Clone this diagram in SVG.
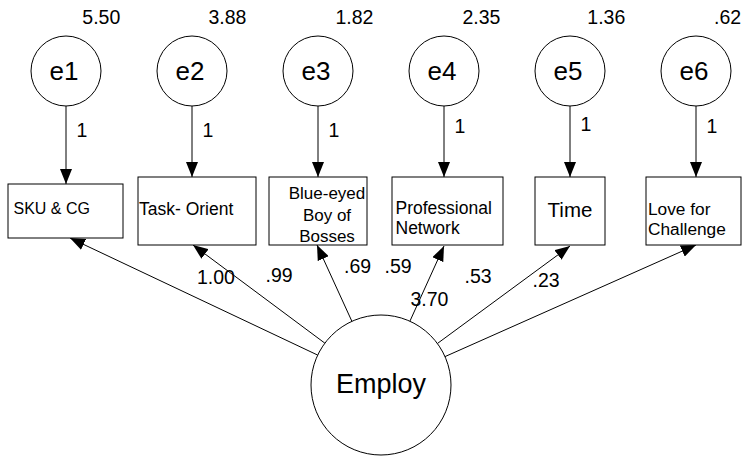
<svg xmlns="http://www.w3.org/2000/svg" width="742" height="456" viewBox="0 0 742 456">
  <style>
    text { font-family: "Liberation Sans", Arial, sans-serif; fill: #000; }
    .shape { fill: #fff; stroke: #000; stroke-width: 1; }
    .conn { stroke: #000; stroke-width: 1; fill: none; marker-end: url(#arrow); }
    .num { font-size: 19.5px; }
    .err { font-size: 26px; text-anchor: middle; }
  </style>
  <defs>
    <marker id="arrow" markerUnits="userSpaceOnUse" markerWidth="15" markerHeight="12" refX="15" refY="6" orient="auto">
      <path d="M0,0 L15,6 L0,12 Z" fill="#000"/>
    </marker>
  </defs>
  <rect width="742" height="456" fill="#fff"/>

  <g id="connectors">
    <line class="conn" x1="66" y1="106" x2="66" y2="184"/>
    <line class="conn" x1="192" y1="106" x2="192" y2="177"/>
    <line class="conn" x1="318" y1="106" x2="318" y2="177"/>
    <line class="conn" x1="444" y1="106" x2="444" y2="177"/>
    <line class="conn" x1="570" y1="106" x2="570" y2="177"/>
    <line class="conn" x1="696" y1="106" x2="696" y2="177"/>
    <line class="conn" x1="317.7" y1="355.1" x2="70" y2="238"/>
    <line class="conn" x1="324.9" y1="343.2" x2="193" y2="245"/>
    <line class="conn" x1="351.9" y1="321.3" x2="317" y2="245"/>
    <line class="conn" x1="409.9" y1="321.2" x2="444" y2="246"/>
    <line class="conn" x1="437.4" y1="343.5" x2="570" y2="246"/>
    <line class="conn" x1="445" y1="356.6" x2="696" y2="245"/>
    <text class="num" x="76.5" y="137">1</text>
    <text class="num" x="202.5" y="137">1</text>
    <text class="num" x="328.5" y="137">1</text>
    <text class="num" x="454.5" y="133">1</text>
    <text class="num" x="580.5" y="131">1</text>
    <text class="num" x="706.5" y="133">1</text>
    <text class="num" x="197" y="283.5">1.00</text>
    <text class="num" x="265.5" y="282">.99</text>
    <text class="num" x="344" y="273">.69</text>
    <text class="num" x="384.5" y="273">.59</text>
    <text class="num" x="410.5" y="306">3.70</text>
    <text class="num" x="464.5" y="283">.53</text>
    <text class="num" x="532.5" y="287">.23</text>
  </g>

  <g id="e1">
    <circle class="shape" cx="66" cy="71" r="35"/>
    <text class="err" x="64" y="80">e1</text>
    <text class="num" x="82.3" y="24">5.50</text>
  </g>
  <g id="e2">
    <circle class="shape" cx="192" cy="71" r="35"/>
    <text class="err" x="190" y="80">e2</text>
    <text class="num" x="208.5" y="24">3.88</text>
  </g>
  <g id="e3">
    <circle class="shape" cx="318" cy="71" r="35"/>
    <text class="err" x="316" y="80">e3</text>
    <text class="num" x="335.5" y="24">1.82</text>
  </g>
  <g id="e4">
    <circle class="shape" cx="444" cy="71" r="35"/>
    <text class="err" x="442" y="80">e4</text>
    <text class="num" x="462.5" y="24">2.35</text>
  </g>
  <g id="e5">
    <circle class="shape" cx="570" cy="71" r="35"/>
    <text class="err" x="568" y="80">e5</text>
    <text class="num" x="587.3" y="24">1.36</text>
  </g>
  <g id="e6">
    <circle class="shape" cx="696" cy="71" r="35"/>
    <text class="err" x="694" y="80">e6</text>
    <text class="num" x="714" y="24">.62</text>
  </g>

  <g id="sku">
    <rect class="shape" x="8" y="184" width="115" height="54"/>
    <text x="13.5" y="214" font-size="16">SKU &amp; CG</text>
  </g>
  <g id="task">
    <rect class="shape" x="138" y="177" width="118" height="68"/>
    <text x="139" y="215" font-size="17.5">Task- Orient</text>
  </g>
  <g id="blue">
    <rect class="shape" x="269" y="177" width="98" height="68"/>
    <text x="327" y="199" font-size="17" text-anchor="middle">Blue-eyed</text>
    <text x="327" y="220.5" font-size="17" text-anchor="middle">Boy of</text>
    <text x="327" y="242" font-size="17" text-anchor="middle">Bosses</text>
  </g>
  <g id="prof">
    <rect class="shape" x="392" y="177" width="111" height="68"/>
    <text x="395.5" y="214" font-size="17.5">Professional</text>
    <text x="395.5" y="233.5" font-size="17.5">Network</text>
  </g>
  <g id="time">
    <rect class="shape" x="535" y="177" width="70" height="68"/>
    <text x="570" y="216.5" font-size="20.5" text-anchor="middle">Time</text>
  </g>
  <g id="love">
    <rect class="shape" x="646" y="177" width="95" height="68"/>
    <text x="648" y="214.5" font-size="17.3">Love for</text>
    <text x="648" y="234.5" font-size="17.3">Challenge</text>
  </g>
  <g id="employ">
    <circle class="shape" cx="381" cy="385" r="70"/>
    <text x="381" y="393" font-size="27" text-anchor="middle">Employ</text>
  </g>
</svg>
